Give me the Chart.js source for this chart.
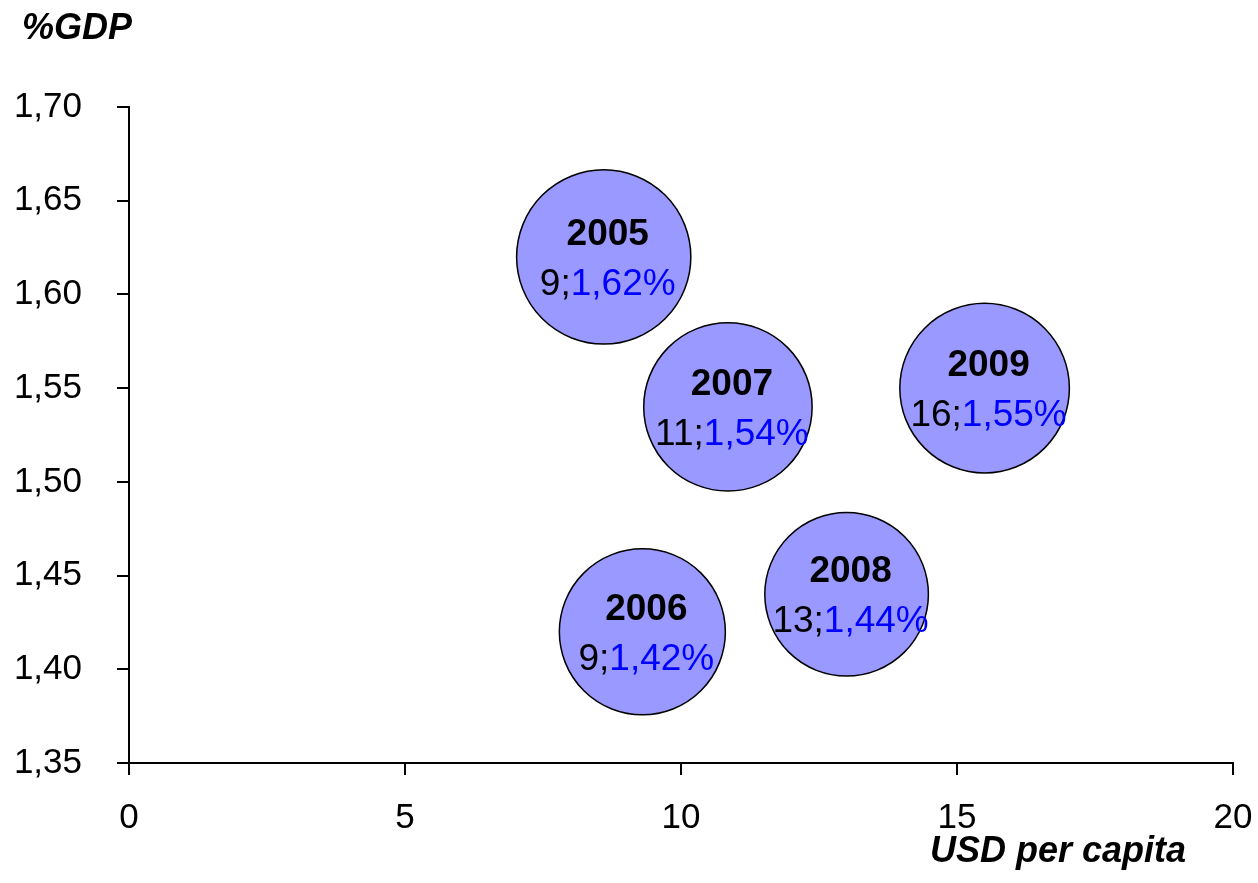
<!DOCTYPE html>
<html>
<head>
<meta charset="utf-8">
<title>USD per capita vs %GDP</title>
<script src="https://cdn.jsdelivr.net/npm/chart.js@4.4.1/dist/chart.umd.min.js"></script>
<style>
  html, body { margin: 0; padding: 0; background: #fff; }
  #wrap { width: 1258px; height: 883px; }
</style>
</head>
<body>
<div id="wrap"><canvas id="bubbleChart" width="1258" height="883"></canvas></div>
<script>
// yearly values: spending per capita (USD) and share of GDP (%)
const years = ['2005', '2006', '2007', '2008', '2009'];
const usdPerCapita = [8.6, 9.3, 10.85, 13.0, 15.5];
const gdpShare = [1.62, 1.42, 1.54, 1.44, 1.55];
const bubbleSize = [7.6, 6.9, 7.1, 6.7, 7.2];

const xTicks = [0, 5, 10, 15, 20];
const yTicks = [1.35, 1.40, 1.45, 1.50, 1.55, 1.60, 1.65, 1.70];

const FONT = '"Liberation Sans", Arial, sans-serif';

const points = years.map((y, i) => ({
  x: usdPerCapita[i],
  y: gdpShare[i],
  r: Math.sqrt(bubbleSize[i]) * 31.6
}));

// year + "x;y%" text inside each bubble
const bubbleLabels = {
  id: 'bubbleLabels',
  afterDatasetsDraw(chart) {
    const ctx = chart.ctx;
    const meta = chart.getDatasetMeta(0);
    meta.data.forEach((pt, i) => {
      const cx = pt.x + 4, cy = pt.y;
      ctx.save();
      ctx.textBaseline = 'alphabetic';
      ctx.textAlign = 'center';
      ctx.fillStyle = '#000';
      ctx.font = 'bold 37px ' + FONT;
      ctx.fillText(years[i], cx, cy - 12);

      const head = Math.round(usdPerCapita[i]) + ';';
      const tail = gdpShare[i].toFixed(2).replace('.', ',') + '%';
      ctx.font = '37px ' + FONT;
      const w1 = ctx.measureText(head).width;
      const w2 = ctx.measureText(tail).width;
      const left = cx - (w1 + w2) / 2;
      ctx.textAlign = 'left';
      ctx.fillText(head, left, cy + 38);
      ctx.fillStyle = '#0000ff';
      ctx.fillText(tail, left + w1, cy + 38);
      ctx.restore();
    });
  }
};

// axis titles sit outside the usual places (top-left and bottom-right)
const axisTitles = {
  id: 'axisTitles',
  afterDraw(chart) {
    const ctx = chart.ctx;
    ctx.save();
    ctx.fillStyle = '#000';
    ctx.font = 'italic bold 36px ' + FONT;
    ctx.textBaseline = 'alphabetic';
    ctx.textAlign = 'left';
    ctx.fillText('%GDP', 22, 39);
    ctx.textAlign = 'right';
    ctx.fillText('USD per capita', 1186, 862);
    ctx.restore();
  }
};

new Chart(document.getElementById('bubbleChart'), {
  type: 'bubble',
  data: {
    datasets: [{
      data: points,
      backgroundColor: '#9999ff',
      borderColor: '#000',
      borderWidth: 1.5
    }]
  },
  options: {
    responsive: false,
    animation: false,
    events: [],
    clip: false,
    layout: { autoPadding: false, padding: { left: 0, top: 107, right: 25, bottom: 0 } },
    plugins: {
      legend: { display: false },
      tooltip: { enabled: false }
    },
    scales: {
      x: {
        type: 'linear',
        min: 0,
        max: 20,
        afterBuildTicks: s => { s.ticks = xTicks.map(v => ({ value: v })); },
        afterFit: s => {
          s.height = 120;
          s.paddingLeft = 0;
          s.paddingRight = 0;
        },
        grid: { drawOnChartArea: false, drawTicks: true, tickLength: 12, tickColor: '#000', lineWidth: 2 },
        border: { color: '#000', width: 2 },
        ticks: {
          padding: 22,
          color: '#000',
          font: { family: FONT, size: 35 },
          callback: v => String(v)
        }
      },
      y: {
        type: 'linear',
        min: 1.35,
        max: 1.70,
        afterBuildTicks: s => { s.ticks = yTicks.map(v => ({ value: v })); },
        afterFit: s => {
          s.width = 129;
          s.paddingTop = 0;
          s.paddingBottom = 0;
        },
        grid: { drawOnChartArea: false, drawTicks: true, tickLength: 12, tickColor: '#000', lineWidth: 2 },
        border: { color: '#000', width: 2 },
        ticks: {
          padding: 35,
          color: '#000',
          font: { family: FONT, size: 35 },
          callback: v => v.toFixed(2).replace('.', ',')
        }
      }
    }
  },
  plugins: [bubbleLabels, axisTitles]
});
</script>
</body>
</html>
